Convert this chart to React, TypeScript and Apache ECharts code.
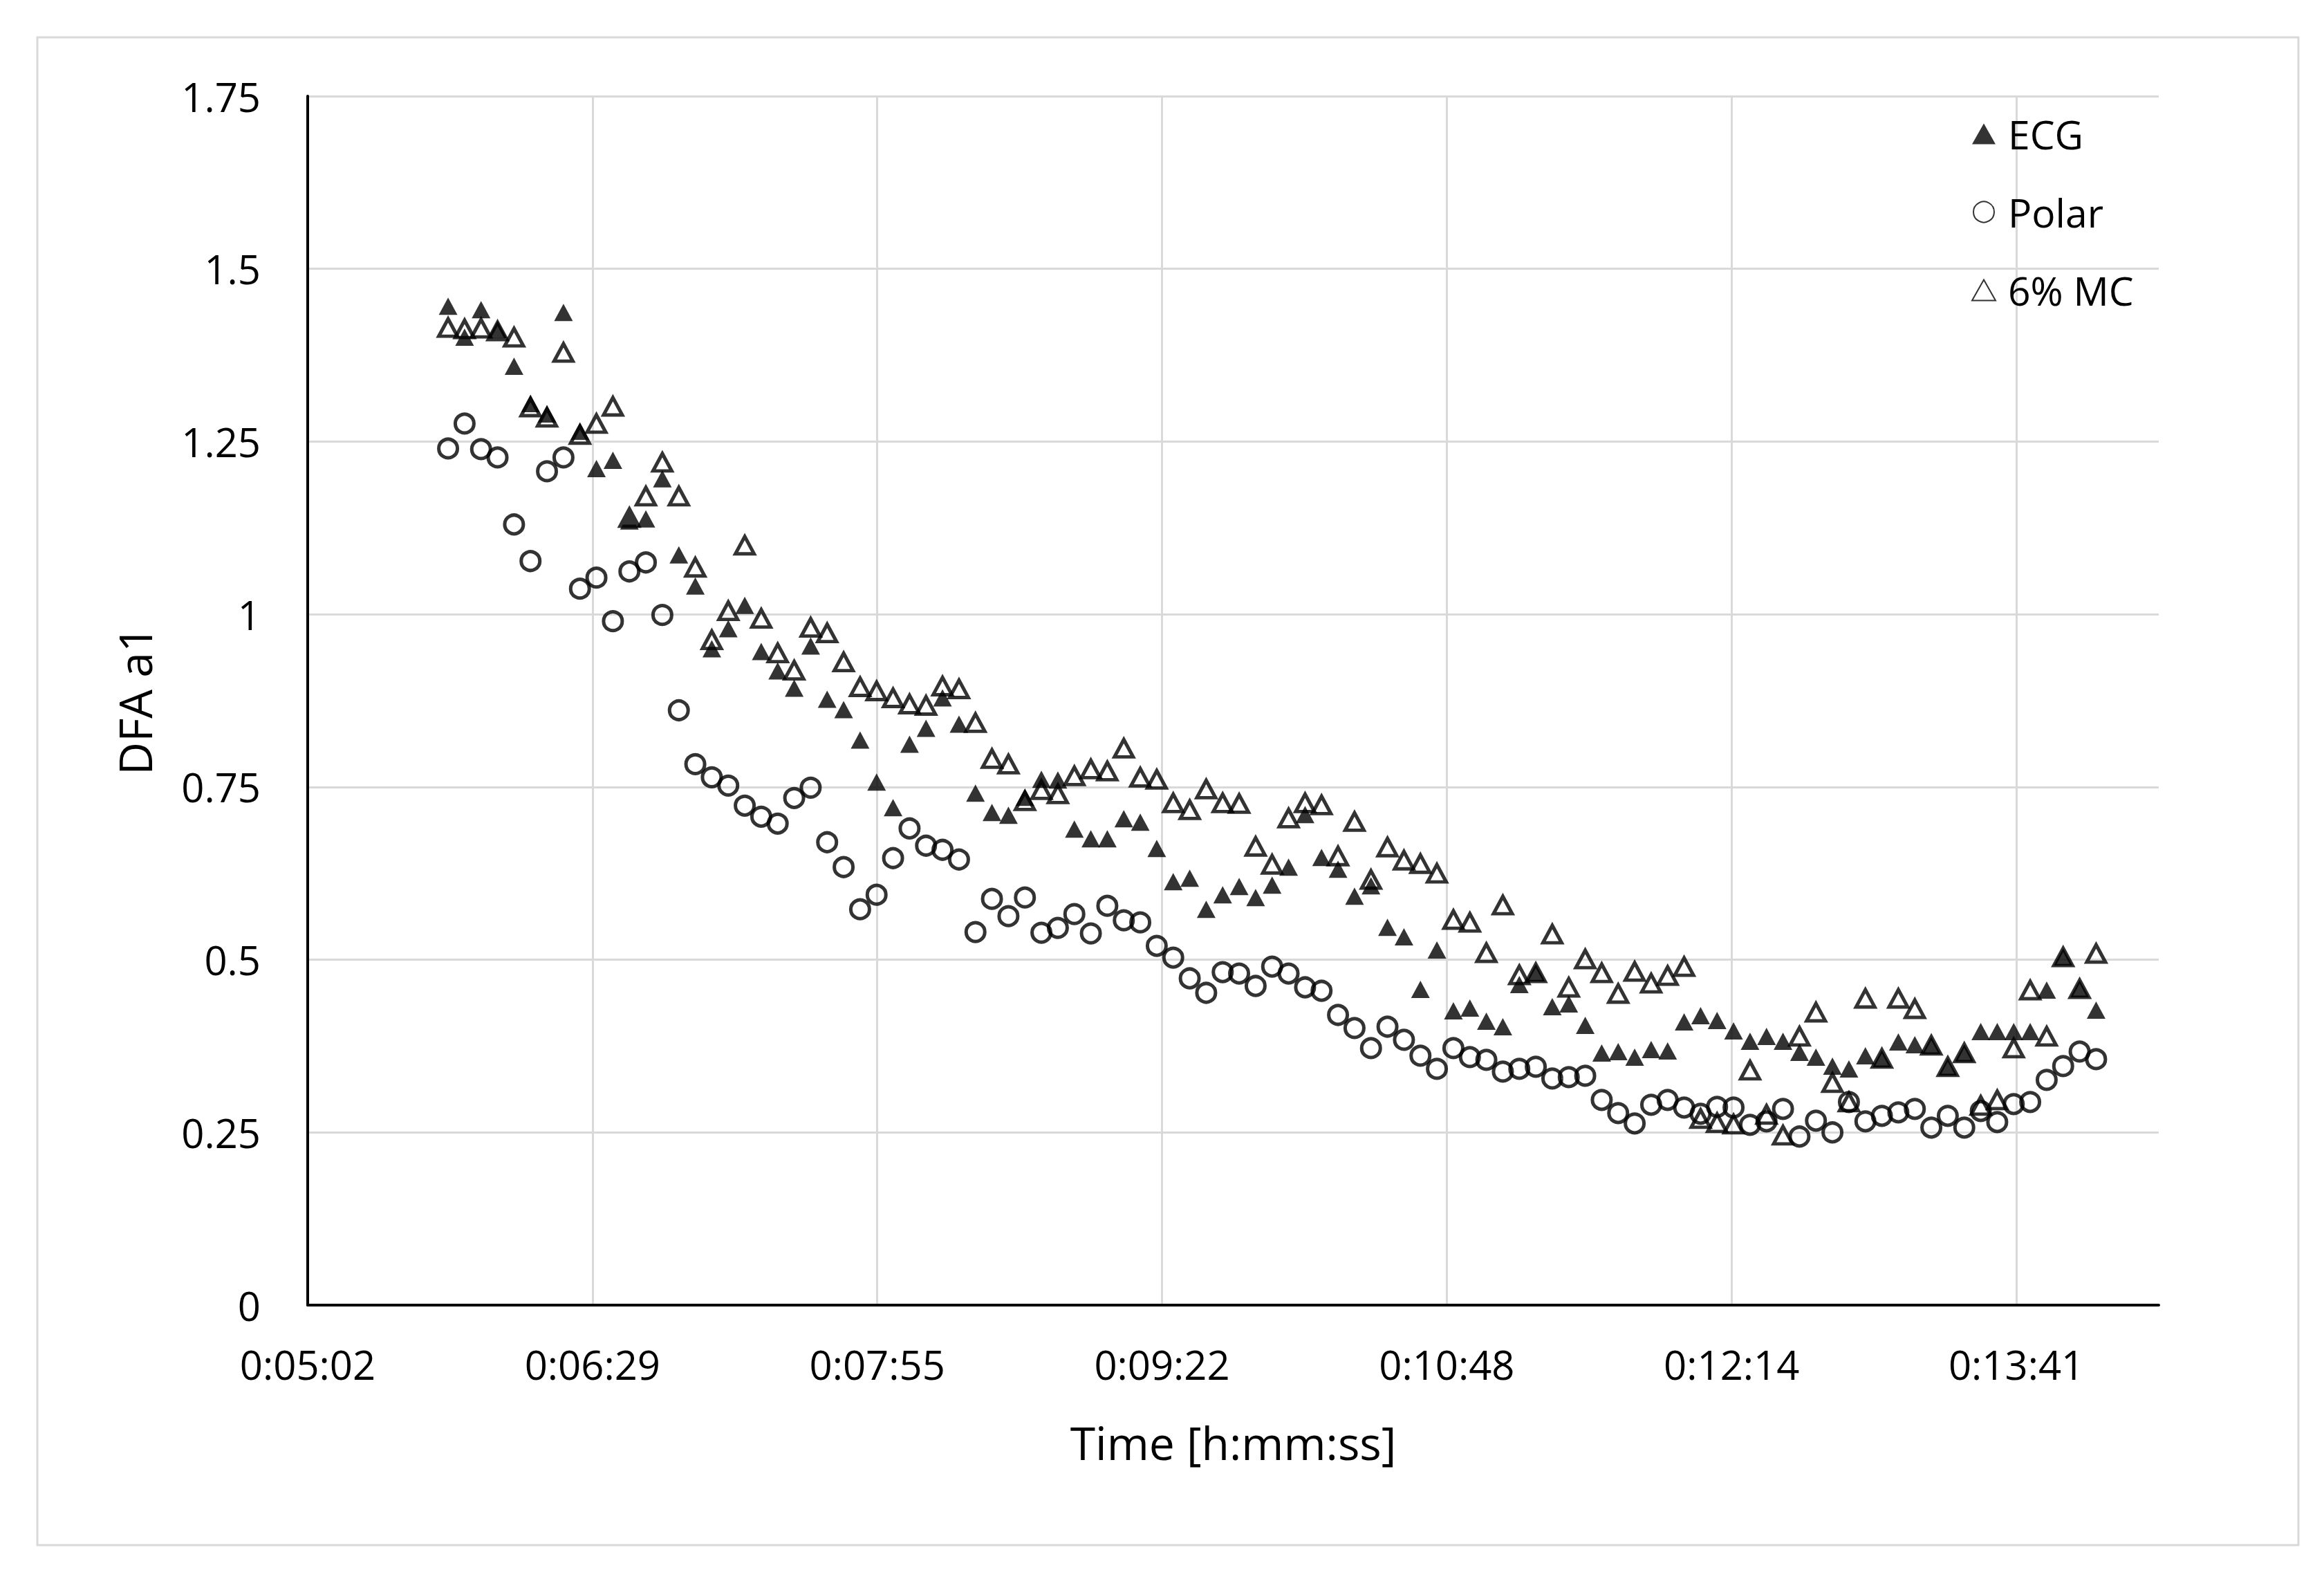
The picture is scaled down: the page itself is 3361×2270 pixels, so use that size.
import React, { useEffect, useRef } from "react";
import * as echarts from "echarts";

// Time of each sample, in seconds (h:mm:ss on the axis)
const timesSec = [
  345, 350, 355, 360, 365, 370, 375, 380, 385, 390,
  395, 400, 405, 410, 415, 420, 425, 430, 435, 440,
  445, 450, 455, 460, 465, 470, 475, 480, 485, 490,
  495, 500, 505, 510, 515, 520, 525, 530, 535, 540,
  545, 550, 555, 560, 565, 570, 575, 580, 585, 590,
  595, 600, 605, 610, 615, 620, 625, 630, 635, 640,
  645, 650, 655, 660, 665, 670, 675, 680, 685, 690,
  695, 700, 705, 710, 715, 720, 725, 730, 735, 740,
  745, 750, 755, 760, 765, 770, 775, 780, 785, 790,
  795, 800, 805, 810, 815, 820, 825, 830, 835, 840,
  845,
];

const ecgValues = [
  1.446, 1.401, 1.441, 1.412, 1.359, 1.305, 1.29, 1.437, 1.265, 1.211,
  1.223, 1.135, 1.138, 1.196, 1.086, 1.041, 0.95, 0.979, 1.013, 0.946,
  0.918, 0.893, 0.954, 0.877, 0.862, 0.818, 0.757, 0.72, 0.812, 0.835,
  0.879, 0.841, 0.741, 0.713, 0.709, 0.735, 0.761, 0.76, 0.689, 0.675,
  0.675, 0.704, 0.699, 0.661, 0.613, 0.618, 0.573, 0.594, 0.606, 0.59,
  0.608, 0.634, 0.71, 0.648, 0.631, 0.592, 0.607, 0.547, 0.533, 0.457,
  0.514, 0.426, 0.43, 0.411, 0.403, 0.464, 0.481, 0.432, 0.436, 0.405,
  0.365, 0.367, 0.359, 0.37, 0.368, 0.41, 0.419, 0.412, 0.397, 0.382,
  0.389, 0.382, 0.366, 0.359, 0.346, 0.342, 0.361, 0.357, 0.381, 0.377,
  0.376, 0.345, 0.365, 0.396, 0.396, 0.396, 0.396, 0.456, 0.504, 0.458,
  0.427,
];

const polarValues = [
  1.24, 1.276, 1.239, 1.227, 1.13, 1.077, 1.207, 1.227, 1.037, 1.053,
  0.99, 1.062, 1.075, 0.999, 0.861, 0.783, 0.764, 0.752, 0.723, 0.707,
  0.697, 0.734, 0.749, 0.67, 0.634, 0.573, 0.594, 0.647, 0.69, 0.665,
  0.659, 0.645, 0.54, 0.588, 0.563, 0.59, 0.539, 0.546, 0.566, 0.538,
  0.578, 0.557, 0.554, 0.52, 0.503, 0.473, 0.452, 0.482, 0.48, 0.462,
  0.49, 0.48, 0.46, 0.455, 0.42, 0.401, 0.372, 0.403, 0.384, 0.361,
  0.342, 0.372, 0.359, 0.355, 0.338, 0.342, 0.345, 0.328, 0.33, 0.332,
  0.297, 0.278, 0.263, 0.29, 0.297, 0.286, 0.277, 0.287, 0.286, 0.261,
  0.266, 0.284, 0.244, 0.267, 0.25, 0.294, 0.266, 0.274, 0.279, 0.284,
  0.257, 0.274, 0.257, 0.281, 0.265, 0.291, 0.294, 0.326, 0.346, 0.367,
  0.356,
];

const mcValues = [
  1.415, 1.413, 1.414, 1.41, 1.401, 1.3, 1.285, 1.379, 1.26, 1.276,
  1.301, 1.14, 1.171, 1.22, 1.171, 1.068, 0.963, 1.005, 1.1, 0.994,
  0.944, 0.919, 0.981, 0.973, 0.931, 0.895, 0.889, 0.879, 0.87, 0.868,
  0.896, 0.892, 0.843, 0.791, 0.783, 0.73, 0.746, 0.74, 0.766, 0.776,
  0.773, 0.806, 0.764, 0.761, 0.727, 0.717, 0.747, 0.727, 0.726, 0.664,
  0.638, 0.705, 0.727, 0.724, 0.65, 0.7, 0.616, 0.663, 0.644, 0.639,
  0.625, 0.558, 0.554, 0.51, 0.579, 0.478, 0.481, 0.537, 0.46, 0.501,
  0.481, 0.451, 0.483, 0.466, 0.477, 0.49, 0.27, 0.264, 0.262, 0.34,
  0.276, 0.246, 0.389, 0.424, 0.322, 0.294, 0.444, 0.357, 0.444, 0.429,
  0.376, 0.345, 0.365, 0.289, 0.297, 0.372, 0.456, 0.389, 0.504, 0.458,
  0.509,
];

const seriesNames = ["ECG", "Polar", "6% MC"];

// Excel date axis: 0.0035 .. 0.01 day, major unit 0.001 day (in seconds)
const xStartSec = 302.4;
const xEndSec = 864;
const xStepSec = 86.4;

const yMin = 0;
const yMax = 1.75;
const yStep = 0.25;

const FONT = "'Open Sans', 'Noto Sans', sans-serif";

function fmtTime(sec: number): string {
  const s = Math.round(sec);
  const h = Math.floor(s / 3600);
  const m = Math.floor((s % 3600) / 60);
  const r = s % 60;
  return `${h}:${String(m).padStart(2, "0")}:${String(r).padStart(2, "0")}`;
}

export default function App() {
  const ref = useRef<HTMLDivElement>(null);

  useEffect(() => {
    if (!ref.current) return;
    const chart = echarts.init(ref.current, null, { renderer: "svg" });

    const toPairs = (vals: number[]) =>
      timesSec.map((t, i) => [t - xStartSec, vals[i]]);

    const hollow = "rgba(255,255,255,0)";

    chart.setOption({
      animation: false,
      backgroundColor: "#ffffff",
      textStyle: { fontFamily: FONT, color: "#000" },
      graphic: [
        {
          type: "rect",
          shape: { x: 46, y: 46, width: 3270, height: 2180 },
          style: { fill: "none", stroke: "#d9d9d9", lineWidth: 3 },
          silent: true,
          z: -10,
        },
      ],
      grid: { left: 437, right: 231, top: 131, bottom: 375, containLabel: false },
      legend: {
        orient: "vertical",
        left: 2838,
        top: 152,
        itemWidth: 34,
        itemHeight: 30,
        itemGap: 56,
        data: seriesNames,
        textStyle: {
          fontSize: 57,
          color: "#000",
          fontFamily: FONT,
          padding: [0, 0, 0, 13],
        },
      },
      xAxis: {
        type: "value",
        min: 0,
        max: xEndSec - xStartSec,
        interval: xStepSec,
        name: "Time [h:mm:ss]",
        nameLocation: "middle",
        nameGap: 165,
        nameTextStyle: { fontSize: 66, color: "#000", fontFamily: FONT },
        axisLine: { show: true, onZero: false, lineStyle: { color: "#000", width: 4 } },
        axisTick: { show: false },
        axisLabel: {
          fontSize: 58,
          color: "#000",
          fontFamily: FONT,
          margin: 56,
          showMaxLabel: false,
          formatter: (v: number) => fmtTime(v + xStartSec),
        },
        splitLine: {
          show: true,
          showMaxLine: false,
          lineStyle: { color: "#d9d9d9", width: 3 },
        },
      },
      yAxis: {
        type: "value",
        min: yMin,
        max: yMax,
        interval: yStep,
        name: "DFA a1",
        nameLocation: "middle",
        nameGap: 218,
        nameTextStyle: { fontSize: 66, color: "#000", fontFamily: FONT },
        axisLine: { show: true, lineStyle: { color: "#000", width: 4 } },
        axisTick: { show: false },
        axisLabel: { fontSize: 58, color: "#000", fontFamily: FONT, margin: 68 },
        splitLine: { show: true, lineStyle: { color: "#d9d9d9", width: 3 } },
      },
      series: [
        {
          name: seriesNames[0],
          type: "scatter",
          symbol: "triangle",
          symbolSize: [27, 25],
          itemStyle: { color: "#000" },
          data: toPairs(ecgValues),
        },
        {
          name: seriesNames[1],
          type: "scatter",
          symbol: "circle",
          symbolSize: 27,
          itemStyle: { color: hollow, borderColor: "#000", borderWidth: 5 },
          data: toPairs(polarValues),
        },
        {
          name: seriesNames[2],
          type: "scatter",
          symbol: "triangle",
          symbolSize: [27, 25],
          itemStyle: { color: hollow, borderColor: "#000", borderWidth: 5 },
          data: toPairs(mcValues),
        },
      ],
    });

    return () => chart.dispose();
  }, []);

  return <div ref={ref} style={{ width: 3345, height: 2254 }} />;
}
